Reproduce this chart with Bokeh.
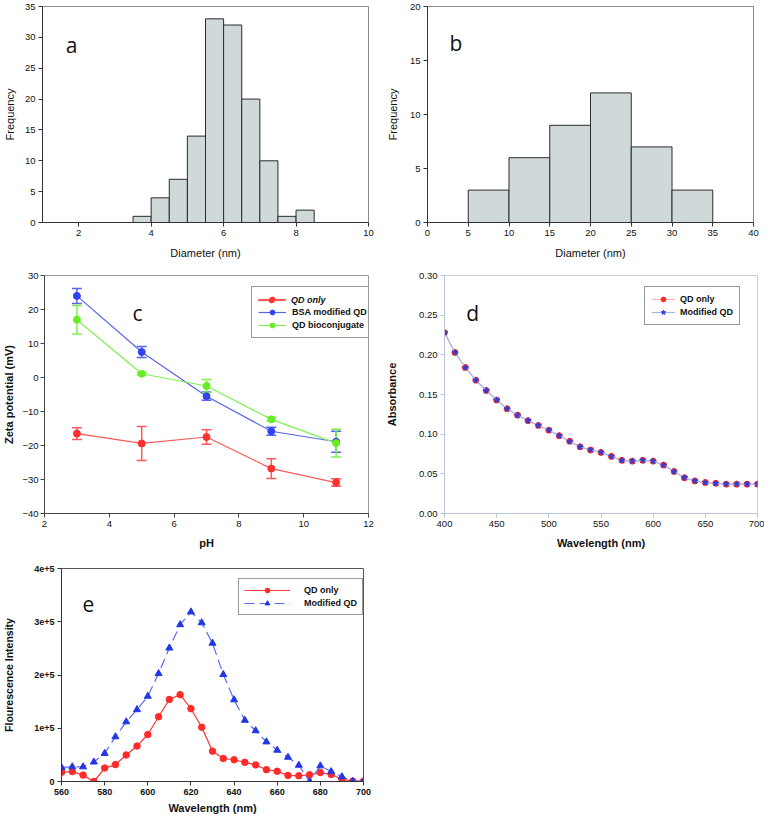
import pandas as pd
from bokeh.plotting import figure
from bokeh.models import (Range1d, FixedTicker, Legend, LegendItem, Label,
                          Whisker, TeeHead, ColumnDataSource, NumeralTickFormatter)
from bokeh.layouts import column, row
from bokeh.embed import file_html
from bokeh.resources import INLINE

# ---------------- data ----------------
# (a) size histogram, small QDs
a_edges = [3.5, 4.0, 4.5, 5.0, 5.5, 6.0, 6.5, 7.0, 7.5, 8.0, 8.5]
a_counts = [1, 4, 7, 14, 33, 32, 20, 10, 1, 2]
# (b) size histogram, conjugates
b_edges = [5, 10, 15, 20, 25, 30, 35]
b_counts = [3, 6, 9, 12, 7, 3]
# (c) zeta potential vs pH
ph = [3, 5, 7, 9, 11]
zeta_qd = [-16.5, -19.4, -17.5, -26.8, -30.9]
zeta_qd_err = [1.7, 5.0, 2.1, 2.9, 1.1]
zeta_bsa = [24.0, 7.5, -5.5, -15.8, -18.9]
zeta_bsa_err = [2.2, 1.6, 1.2, 1.2, 3.1]
zeta_conj = [17.0, 1.1, -2.5, -12.3, -19.3]
zeta_conj_err = [4.2, 0.3, 1.9, 0.6, 4.1]
# (d) absorbance spectra
abs_wl = [400, 410, 420, 430, 440, 450, 460, 470, 480, 490, 500, 510, 520, 530,
          540, 550, 560, 570, 580, 590, 600, 610, 620, 630, 640, 650, 660, 670,
          680, 690, 700]
abs_qd = [0.228, 0.203, 0.184, 0.168, 0.155, 0.143, 0.132, 0.124, 0.117, 0.111,
          0.105, 0.098, 0.091, 0.084, 0.080, 0.077, 0.072, 0.067, 0.066, 0.067,
          0.066, 0.061, 0.053, 0.045, 0.041, 0.039, 0.038, 0.037, 0.037, 0.037,
          0.037]
abs_mod = [0.228, 0.203, 0.184, 0.168, 0.155, 0.143, 0.132, 0.124, 0.117, 0.111,
           0.105, 0.098, 0.091, 0.084, 0.080, 0.077, 0.072, 0.067, 0.066, 0.067,
           0.066, 0.061, 0.053, 0.045, 0.041, 0.039, 0.038, 0.037, 0.037, 0.037,
           0.037]
# (e) fluorescence spectra
fl_wl = [560, 565, 570, 575, 580, 585, 590, 595, 600, 605, 610, 615, 620, 625,
         630, 635, 640, 645, 650, 655, 660, 665, 670, 675, 680, 685, 690, 695, 700]
fl_qd = [17400, 18600, 12000, 0, 25200, 31800, 49800, 66600, 88200, 121700,
         154100, 163100, 136700, 102000, 57000, 43200, 40800, 36000, 31200,
         22200, 19200, 11400, 10800, 12600, 16800, 13200, 4200, 600, 600]
fl_mod = [26400, 27600, 27600, 36600, 52800, 84000, 112100, 134900, 160100,
          202700, 250700, 294500, 318500, 298100, 259700, 200900, 153500,
          115100, 95400, 74400, 58800, 45600, 30600, 0, 29400, 18600, 9000,
          600, 0]
fl_ticks = [0, 100000, 200000, 300000, 400000]
fl_tick_labels = ["0", "1e+5", "2e+5", "3e+5", "4e+5"]

FONT = "Liberation Sans"
LETTER_FONT = "Open Sans"


def make_fig(w, h, xr, yr, mbl, mbr, mbt, mbb, xticks, yticks,
             xlabel, ylabel, label_style="normal", tick_style="normal",
             frame_color="#8a8a8a", axis_color="#333333", tick_size="9.5px",
             label_size="11px", xl_standoff=8, yl_standoff=8):
    p = figure(width=w, height=h, x_range=Range1d(*xr), y_range=Range1d(*yr),
               output_backend="svg", toolbar_location=None,
               min_border_left=mbl, min_border_right=mbr,
               min_border_top=mbt, min_border_bottom=mbb)
    p.grid.visible = False
    p.outline_line_color = frame_color
    p.outline_line_width = 1
    p.background_fill_color = "white"
    p.border_fill_color = "white"
    p.xaxis.ticker = FixedTicker(ticks=xticks)
    p.yaxis.ticker = FixedTicker(ticks=yticks)
    p.xaxis.axis_label = xlabel
    p.yaxis.axis_label = ylabel
    for ax in (p.xaxis[0], p.yaxis[0]):
        ax.minor_tick_line_color = None
        ax.major_tick_in = 0
        ax.major_tick_out = 4
        ax.axis_line_color = axis_color
        ax.major_tick_line_color = axis_color
        ax.major_label_text_font = FONT
        ax.major_label_text_font_size = tick_size
        ax.major_label_text_font_style = tick_style
        ax.major_label_text_color = "#111111"
        ax.major_label_standoff = 3
        ax.axis_label_text_font = FONT
        ax.axis_label_text_font_size = label_size
        ax.axis_label_text_font_style = label_style
        ax.axis_label_text_color = "#111111"
    p.xaxis[0].axis_label_standoff = xl_standoff
    p.yaxis[0].axis_label_standoff = yl_standoff
    return p


def letter(p, txt, x, y):
    p.add_layout(Label(x=x, y=y, text=txt, text_font=LETTER_FONT,
                       text_font_size="21px", text_color="#111111",
                       text_align="center", text_baseline="middle"))


leg_kw = dict(label_text_font=FONT, label_text_font_size="9px",
              label_text_color="#111111", glyph_height=12, label_height=12,
              spacing=1, margin=0, background_fill_color="white",
              border_line_color="#333333", border_line_width=1)

HIST_FILL = "#d0d9d9"
HIST_LINE = "#2b2b2b"

# ---------------- (a) ----------------
pa = make_fig(383, 262, (1, 10), (0, 35), 30, 15, 6, 39,
              [2, 4, 6, 8, 10], [0, 5, 10, 15, 20, 25, 30, 35],
              "Diameter (nm)", "Frequency", xl_standoff=8, yl_standoff=6)
pa.quad(left=a_edges[:-1], right=a_edges[1:], bottom=0, top=a_counts,
        fill_color=HIST_FILL, line_color=HIST_LINE, line_width=1)
letter(pa, "a", 1.8, 28.7)

# ---------------- (b) ----------------
pb = make_fig(381, 262, (0, 40), (0, 20), 38, 11, 5, 40,
              [0, 5, 10, 15, 20, 25, 30, 35, 40], [0, 5, 10, 15, 20],
              "Diameter (nm)", "Frequency", xl_standoff=8, yl_standoff=8)
pb.quad(left=b_edges[:-1], right=b_edges[1:], bottom=0, top=b_counts,
        fill_color=HIST_FILL, line_color=HIST_LINE, line_width=1)
letter(pb, "b", 3.5, 16.6)

# ---------------- (c) ----------------
pc = make_fig(383, 294, (2, 12), (-40, 30), 33, 15, 13, 43,
              [2, 4, 6, 8, 10, 12], [-40, -30, -20, -10, 0, 10, 20, 30],
              "pH", "Zeta potential (mV)", label_style="bold",
              frame_color="#9a9a9a", axis_color="#444444",
              xl_standoff=7, yl_standoff=4)
pc.yaxis[0].major_label_standoff = 2

zeta = pd.DataFrame({"ph": ph,
                     "qd": zeta_qd, "qd_err": zeta_qd_err,
                     "bsa": zeta_bsa, "bsa_err": zeta_bsa_err,
                     "conj": zeta_conj, "conj_err": zeta_conj_err})
series_c = [("qd", "#ff3030", "#ff5a5a"),
            ("bsa", "#3344ee", "#5566ee"),
            ("conj", "#66ee22", "#80f050")]
rend_c = {}
for key, mcol, lcol in series_c:
    src = ColumnDataSource(dict(x=zeta["ph"], y=zeta[key],
                                upper=zeta[key] + zeta[key + "_err"],
                                lower=zeta[key] - zeta[key + "_err"]))
    w = Whisker(base="x", upper="upper", lower="lower", source=src,
                line_color=lcol, line_width=1.5,
                upper_head=TeeHead(size=10, line_color=lcol, line_width=1.5),
                lower_head=TeeHead(size=10, line_color=lcol, line_width=1.5))
    pc.add_layout(w)
    ln = pc.line("x", "y", source=src, line_color=lcol, line_width=1.2)
    sc = pc.scatter("x", "y", source=src, marker="circle", size=7,
                    fill_color=mcol, line_color=mcol)
    rend_c[key] = [ln, sc]

leg_c = Legend(items=[LegendItem(label=" ", renderers=rend_c["qd"]),
                      LegendItem(label="BSA modified QD", renderers=rend_c["bsa"]),
                      LegendItem(label="QD bioconjugate", renderers=rend_c["conj"])],
               location=(207, 175), glyph_width=28, label_standoff=6, padding=6,
               label_text_font_style="bold", **leg_kw)
pc.add_layout(leg_c)
leg_c2 = Legend(items=[LegendItem(label="QD only", renderers=rend_c["qd"])],
                location=(207, 201), glyph_width=28, label_standoff=6, padding=6,
                label_text_font_style="bold italic",
                **{**leg_kw, "background_fill_alpha": 0, "border_line_alpha": 0})
pc.add_layout(leg_c2)
letter(pc, "c", 4.87, 19.0)

# ---------------- (d) ----------------
pd_ = make_fig(381, 294, (400, 700), (0, 0.30), 57, 7, 13, 43,
               [400, 450, 500, 550, 600, 650, 700],
               [0, 0.05, 0.10, 0.15, 0.20, 0.25, 0.30],
               "Wavelength (nm)", "Absorbance", label_style="bold",
               frame_color="#c3cfdb", axis_color="#b5c4d6",
               xl_standoff=7, yl_standoff=18)
pd_.yaxis[0].formatter = NumeralTickFormatter(format="0.00")
l1 = pd_.line(abs_wl, abs_qd, line_color="#ffb0b0", line_width=1.2)
s1 = pd_.scatter(abs_wl, abs_qd, marker="circle", size=6,
                 fill_color="#ff2a2a", line_color="#ff2a2a")
l2 = pd_.line(abs_wl, abs_mod, line_color="#a8b8ee", line_width=1.2)
s2 = pd_.scatter(abs_wl, abs_mod, marker="star", size=6,
                 fill_color="#2a3ed8", line_color="#2a3ed8")
leg_d = Legend(items=[LegendItem(label="QD only", renderers=[l1, s1]),
                      LegendItem(label="Modified QD", renderers=[l2, s2])],
               location=(200, 188), glyph_width=24, label_standoff=5, padding=6,
               label_text_font_style="bold", **leg_kw)
pd_.add_layout(leg_d)
letter(pd_, "d", 427, 0.253)

# ---------------- (e) ----------------
pe = make_fig(383, 260, (560, 700), (0, 400000), 50, 20, 12, 34,
              [560, 580, 600, 620, 640, 660, 680, 700], fl_ticks,
              "Wavelength (nm)", "Flourescence Intensity", label_style="bold",
              tick_style="bold", tick_size="9px", frame_color="#555555",
              axis_color="#333333", xl_standoff=4, yl_standoff=16)
pe.yaxis[0].major_label_overrides = dict(zip(fl_ticks, fl_tick_labels))
pe.yaxis[0].axis_label_text_font_size = "10.5px"
e_l1 = pe.line(fl_wl, fl_qd, line_color="#ff3535", line_width=1.2)
e_s1 = pe.scatter(fl_wl, fl_qd, marker="circle", size=6.5,
                  fill_color="#ff2a2a", line_color="#ff2a2a")
e_l2 = pe.line(fl_wl, fl_mod, line_color="#5a6cf5", line_width=1.2,
               line_dash="10 5")
e_s2 = pe.scatter(fl_wl, fl_mod, marker="triangle", size=7,
                  fill_color="#2236e6", line_color="#2236e6")
leg_e = Legend(items=[LegendItem(label="QD only", renderers=[e_l1, e_s1]),
                      LegendItem(label="Modified QD", renderers=[e_l2, e_s2])],
               location=(177, 166), glyph_width=46, label_standoff=14, padding=5,
               label_text_font_style="bold", **leg_kw)
pe.add_layout(leg_e)
letter(pe, "e", 572.5, 333000)

layout = column(row(pa, pb), row(pc, pd_), row(pe))
open("out.html", "w").write(file_html(layout, INLINE))
